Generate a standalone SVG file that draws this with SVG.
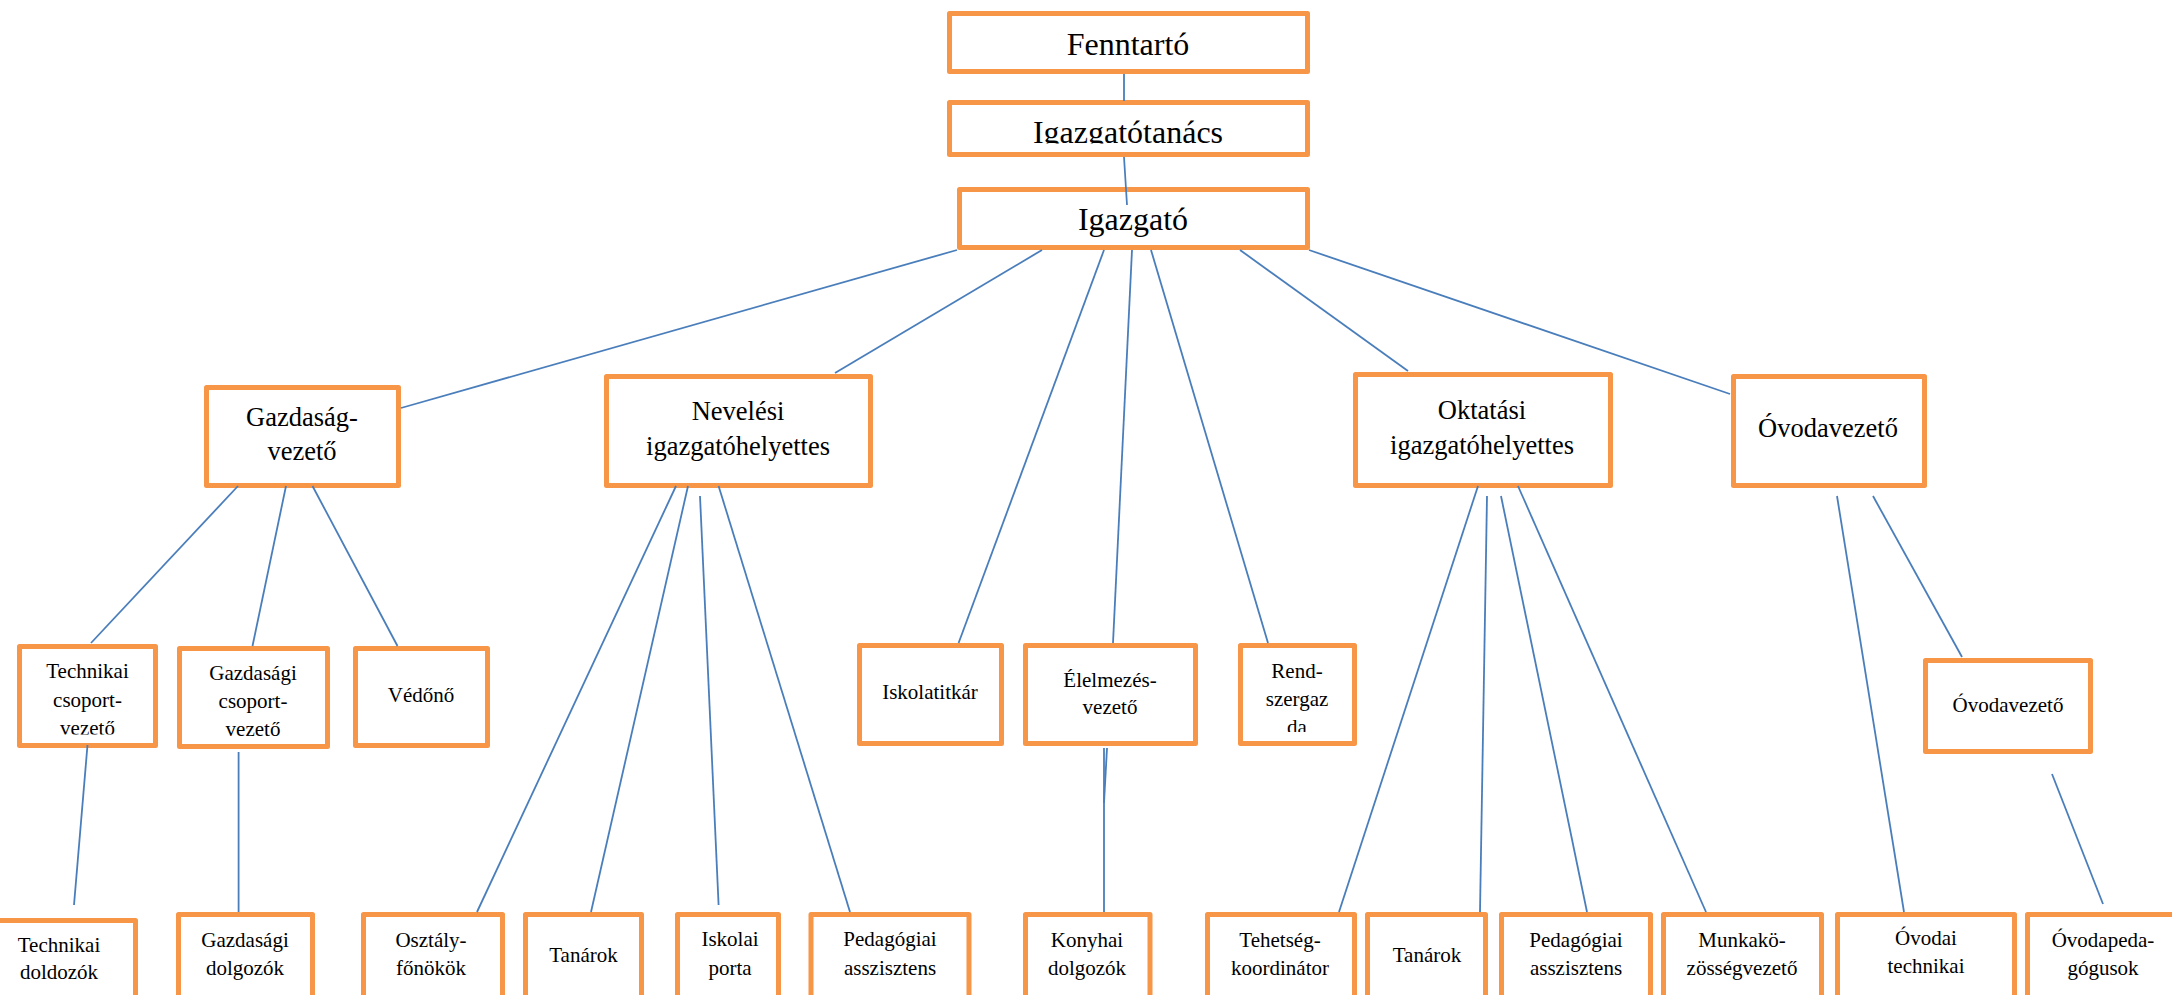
<svg xmlns="http://www.w3.org/2000/svg" width="2172" height="995" viewBox="0 0 2172 995">
<style>
.box{fill:#ffffff;stroke:#F79646;stroke-width:5;stroke-linejoin:round}
.t{font-family:"Liberation Serif","Times New Roman",serif;fill:#000;text-anchor:middle}
.f1{font-size:32px}
.f2{font-size:26.5px}
.f3{font-size:21px}
.c line{stroke:#4A7EBB;stroke-width:1.8;fill:none}
</style>
<defs>
<clipPath id="clipTan"><rect x="950" y="100" width="360" height="43.5"/></clipPath>
<clipPath id="clipTech"><rect x="17" y="644" width="141" height="90.5"/></clipPath>
<clipPath id="clipRend"><rect x="1238" y="643" width="119" height="89"/></clipPath>
</defs>
<rect width="2172" height="995" fill="#ffffff"/>

<g id="fenntarto"><rect class="box" x="949.5" y="13.5" width="358" height="58"/><text class="t f1" x="1128" y="55">Fenntartó</text></g>
<g id="igazgatotanacs"><rect class="box" x="949.5" y="102.5" width="358" height="52"/><text class="t f1" x="1128" y="143" clip-path="url(#clipTan)">Igazgatótanács</text></g>
<g id="igazgato"><rect class="box" x="959.5" y="189.5" width="348" height="58"/><text class="t f1" x="1133" y="230">Igazgató</text></g>

<g id="gazdasagvezeto"><rect class="box" x="206.5" y="387.5" width="192" height="98"/><text class="t f2" x="302" y="426">Gazdaság-</text><text class="t f2" x="302" y="460">vezető</text></g>
<g id="nevelesi"><rect class="box" x="606.5" y="376.5" width="264" height="109"/><text class="t f2" x="738" y="420">Nevelési</text><text class="t f2" x="738" y="455">igazgatóhelyettes</text></g>
<g id="oktatasi"><rect class="box" x="1355.5" y="374.5" width="255" height="111"/><text class="t f2" x="1482" y="419">Oktatási</text><text class="t f2" x="1482" y="454">igazgatóhelyettes</text></g>
<g id="ovodavezeto"><rect class="box" x="1733.5" y="376.5" width="191" height="109"/><text class="t f2" x="1828" y="437">Óvodavezető</text></g>

<g id="technikai-csoportvezeto"><rect class="box" x="19.5" y="646.5" width="136" height="99"/><g clip-path="url(#clipTech)"><text class="t f3" x="87.5" y="678">Technikai</text><text class="t f3" x="87.5" y="707">csoport-</text><text class="t f3" x="87.5" y="735">vezető</text></g></g>
<g id="gazdasagi-csoportvezeto"><rect class="box" x="179.5" y="648.5" width="148" height="98"/><text class="t f3" x="253" y="680">Gazdasági</text><text class="t f3" x="253" y="708">csoport-</text><text class="t f3" x="253" y="736">vezető</text></g>
<g id="vedono"><rect class="box" x="355.5" y="648.5" width="132" height="97"/><text class="t f3" x="421" y="702">Védőnő</text></g>
<g id="iskolatitkar"><rect class="box" x="859.5" y="645.5" width="142" height="98"/><text class="t f3" x="930" y="699">Iskolatitkár</text></g>
<g id="elelmezesvezeto"><rect class="box" x="1025.5" y="645.5" width="170" height="98"/><text class="t f3" x="1110" y="687">Élelmezés-</text><text class="t f3" x="1110" y="714">vezető</text></g>
<g id="rendszergazda"><rect class="box" x="1240.5" y="645.5" width="114" height="98"/><g clip-path="url(#clipRend)"><text class="t f3" x="1297" y="678">Rend-</text><text class="t f3" x="1297" y="706">szergaz</text><text class="t f3" x="1297" y="734">da</text></g></g>
<g id="ovodavezeto2"><rect class="box" x="1925.5" y="660.5" width="165" height="91"/><text class="t f3" x="2008" y="712">Óvodavezető</text></g>

<g id="technikai-dolgozok"><rect class="box" x="-10" y="920.5" width="145.5" height="100"/><text class="t f3" x="59" y="952">Technikai</text><text class="t f3" x="59" y="979">doldozók</text></g>
<g id="gazdasagi-dolgozok"><rect class="box" x="178.5" y="914.5" width="134" height="100"/><text class="t f3" x="245" y="947">Gazdasági</text><text class="t f3" x="245" y="975">dolgozók</text></g>
<g id="osztalyfonokok"><rect class="box" x="363.5" y="914.5" width="139" height="100"/><text class="t f3" x="431" y="947">Osztály-</text><text class="t f3" x="431" y="975">főnökök</text></g>
<g id="tanarok1"><rect class="box" x="525.5" y="914.5" width="116" height="100"/><text class="t f3" x="583.5" y="962">Tanárok</text></g>
<g id="iskolai-porta"><rect class="box" x="677.5" y="914.5" width="101" height="100"/><text class="t f3" x="730" y="946">Iskolai</text><text class="t f3" x="730" y="975">porta</text></g>
<g id="pedagogiai1"><rect class="box" x="811" y="914.5" width="158" height="100"/><text class="t f3" x="890" y="946">Pedagógiai</text><text class="t f3" x="890" y="975">asszisztens</text></g>
<g id="konyhai"><rect class="box" x="1025.5" y="914.5" width="124.5" height="100"/><text class="t f3" x="1087" y="947">Konyhai</text><text class="t f3" x="1087" y="975">dolgozók</text></g>
<g id="tehetseg"><rect class="box" x="1207.5" y="914.5" width="147" height="100"/><text class="t f3" x="1280" y="947">Tehetség-</text><text class="t f3" x="1280" y="975">koordinátor</text></g>
<g id="tanarok2"><rect class="box" x="1367.5" y="914.5" width="118" height="100"/><text class="t f3" x="1427" y="962">Tanárok</text></g>
<g id="pedagogiai2"><rect class="box" x="1501.5" y="914.5" width="149" height="100"/><text class="t f3" x="1576" y="947">Pedagógiai</text><text class="t f3" x="1576" y="975">asszisztens</text></g>
<g id="munkakozosseg"><rect class="box" x="1663.5" y="914.5" width="158" height="100"/><text class="t f3" x="1742" y="947">Munkakö-</text><text class="t f3" x="1742" y="975">zösségvezető</text></g>
<g id="ovodai-technikai"><rect class="box" x="1837.5" y="914.5" width="177" height="100"/><text class="t f3" x="1926" y="945">Óvodai</text><text class="t f3" x="1926" y="973">technikai</text></g>
<g id="ovodapedagogusok"><rect class="box" x="2027.5" y="914.5" width="160" height="100"/><text class="t f3" x="2103" y="947">Óvodapeda-</text><text class="t f3" x="2103" y="975">gógusok</text></g>

<g id="connectors" class="c">
<line x1="1124" y1="74" x2="1124" y2="101"/>
<line x1="1124" y1="157" x2="1127" y2="205"/>
<line x1="957" y1="250" x2="401" y2="408"/>
<line x1="1042" y1="250" x2="835" y2="373"/>
<line x1="1104" y1="250" x2="958.6" y2="643"/>
<line x1="1132" y1="250" x2="1113" y2="643"/>
<line x1="1151" y1="250" x2="1268" y2="643"/>
<line x1="1240" y1="250" x2="1408" y2="371"/>
<line x1="1309" y1="250" x2="1730" y2="394"/>
<line x1="238" y1="486" x2="91" y2="643"/>
<line x1="286" y1="486" x2="252.5" y2="646"/>
<line x1="312.5" y1="486" x2="397.5" y2="646"/>
<line x1="87.5" y1="745" x2="74" y2="905"/>
<line x1="238.6" y1="752" x2="238.6" y2="912"/>
<line x1="676" y1="486" x2="477" y2="912"/>
<line x1="688" y1="486" x2="591" y2="912"/>
<line x1="700" y1="496" x2="718.6" y2="905"/>
<line x1="718.6" y1="486" x2="850" y2="912"/>
<line x1="1104" y1="748" x2="1104" y2="912"/>
<line x1="1107" y1="748" x2="1104" y2="803"/>
<line x1="1478" y1="486" x2="1339" y2="912"/>
<line x1="1487" y1="496" x2="1480" y2="912"/>
<line x1="1501" y1="496" x2="1587" y2="912"/>
<line x1="1518" y1="486" x2="1706" y2="912"/>
<line x1="1837" y1="496" x2="1904" y2="912"/>
<line x1="1873" y1="496" x2="1962" y2="657"/>
<line x1="2052" y1="774" x2="2103" y2="904"/>
</g>
</svg>
